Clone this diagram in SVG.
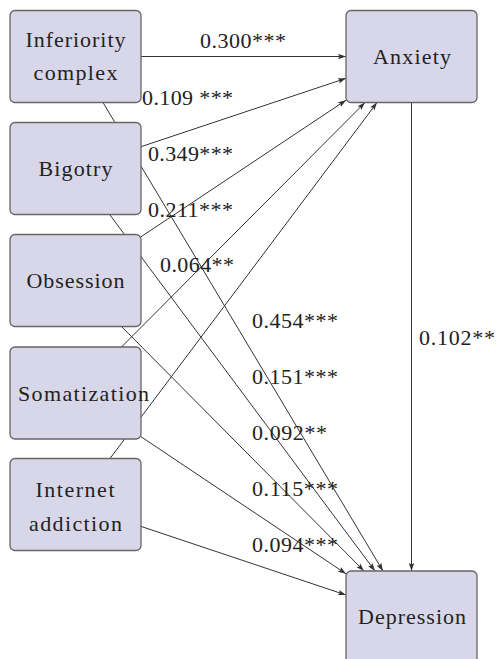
<svg xmlns="http://www.w3.org/2000/svg" width="496" height="659" viewBox="0 0 496 659">
<style>
.box{fill:#d8d7ea;stroke:#666;stroke-width:1.3}
text{font-family:"Liberation Serif","Times New Roman",serif;font-size:22px;fill:#222}
.n{text-anchor:middle}
.e{fill:none;stroke:#333;stroke-width:1;marker-end:url(#ar)}
</style>
<defs>
<marker id="ar" viewBox="0 0 8 6" refX="8" refY="3" markerWidth="8" markerHeight="6" markerUnits="userSpaceOnUse" orient="auto">
<path d="M0,0.3 L8,3 L0,5.7 L1.6,3 Z" fill="#333"/>
</marker>
</defs>
<g id="connectors">
<line class="e" x1="141" y1="56.5" x2="346" y2="56.5"/>
<line class="e" x1="141" y1="146.7" x2="346" y2="78.3"/>
<line class="e" x1="141" y1="236.8" x2="346" y2="100.2"/>
<line class="e" x1="121.5" y1="347" x2="365" y2="102.5"/>
<line class="e" x1="110" y1="458.5" x2="377" y2="102.5"/>
<line class="e" x1="103" y1="102.5" x2="383" y2="571"/>
<line class="e" x1="110" y1="215" x2="375" y2="571"/>
<line class="e" x1="121.5" y1="326.5" x2="364" y2="571"/>
<line class="e" x1="141" y1="436.7" x2="346" y2="573.8"/>
<line class="e" x1="141" y1="526.4" x2="346" y2="595"/>
<line class="e" x1="411.5" y1="102.5" x2="411.5" y2="571"/>
<text x="200" y="48" textLength="86">0.300***</text>
<text x="142" y="105" textLength="91">0.109 ***</text>
<text x="148" y="161" textLength="85">0.349***</text>
<text x="148" y="217" textLength="85">0.211***</text>
<text x="160" y="272" textLength="74">0.064**</text>
<text x="252" y="328" textLength="86">0.454***</text>
<text x="252" y="384" textLength="86">0.151***</text>
<text x="252" y="440" textLength="75">0.092**</text>
<text x="252" y="496" textLength="86">0.115***</text>
<text x="252" y="552" textLength="86">0.094***</text>
<text x="419" y="345" textLength="76">0.102**</text>
</g>
<g id="inferiority">
<rect class="box" x="10" y="10.5" width="131" height="92" rx="5"/>
<text class="n" x="75.5" y="47" textLength="100">Inferiority</text>
<text class="n" x="75.5" y="80" textLength="84">complex</text>
</g>
<g id="bigotry">
<rect class="box" x="10" y="122.5" width="131" height="92" rx="5"/>
<text class="n" x="75.5" y="175.5" textLength="74">Bigotry</text>
</g>
<g id="obsession">
<rect class="box" x="10" y="234.5" width="131" height="92" rx="5"/>
<text class="n" x="75.5" y="288" textLength="98">Obsession</text>
</g>
<g id="somatization">
<rect class="box" x="10" y="347" width="131" height="92" rx="5"/>
<text class="n" x="83.5" y="401" textLength="131">Somatization</text>
</g>
<g id="internet">
<rect class="box" x="10" y="458.5" width="131" height="92" rx="5"/>
<text class="n" x="75" y="497" textLength="79">Internet</text>
<text class="n" x="75.5" y="531" textLength="93">addiction</text>
</g>
<g id="anxiety">
<rect class="box" x="346" y="10.5" width="131" height="92" rx="5"/>
<text class="n" x="412" y="63.5" textLength="78">Anxiety</text>
</g>
<g id="depression">
<rect class="box" x="346" y="571" width="131" height="92" rx="5"/>
<text class="n" x="412" y="623.5" textLength="108">Depression</text>
</g>
</svg>
